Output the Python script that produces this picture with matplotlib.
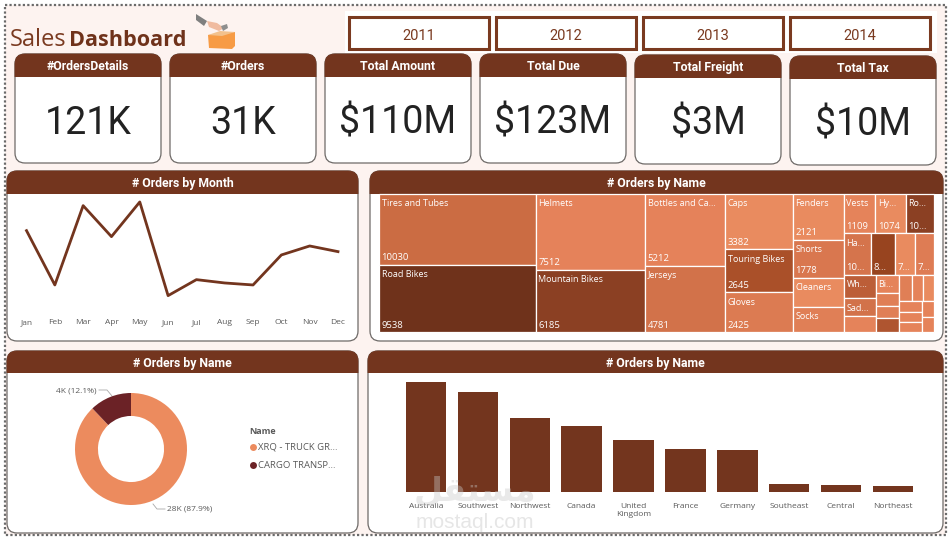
import matplotlib
matplotlib.use("Agg")
import matplotlib.pyplot as plt
from matplotlib.patches import FancyBboxPatch, Rectangle, Polygon

BROWN = "#73351E"
ORANGE = "#EC8B5E"
MAROON = "#6B2226"
PINK_BG = "#FDF3F0"
GREY_TEXT = "#5A5A5A"

W, H = 951, 540

# Top of the page
years = ["2011", "2012", "2013", "2014"]
card_titles = ["#OrdersDetails", "#Orders", "Total Amount", "Total Due", "Total Freight", "Total Tax"]
card_values = ["121K", "31K", "$110M", "$123M", "$3M", "$10M"]

# Orders per month
months = ["Jan", "Feb", "Mar", "Apr", "May", "Jun", "Jul", "Aug", "Sep", "Oct", "Nov", "Dec"]
month_orders = [2980, 2165, 3355, 2890, 3410, 2005, 2245, 2195, 2165, 2615, 2750, 2665]

# Orders per ship method
ship_names = ["XRQ - TRUCK GR...", "CARGO TRANSP..."]
ship_orders = [27659, 3806]

# Orders per territory
territories = ["Australia", "Southwest", "Northwest", "Canada", "United\nKingdom", "France",
               "Germany", "Southeast", "Central", "Northeast"]
territory_orders = [6843, 6224, 4594, 4067, 3219, 2672, 2623, 486, 385, 352]

# Orders per product subcategory
sub_names = ["Tires and Tubes", "Road Bikes", "Helmets", "Mountain Bikes", "Bottles and Ca...", "Jerseys",
             "Caps", "Touring Bikes", "Gloves", "Fenders", "Shorts", "Cleaners", "Socks",
             "Vests", "Hy...", "Ro...", "Ha...", "", "", "",
             "Wh...", "Sad...", "", "Bi...", "", "", "",
             "", "", "", "", "", "", "", ""]
sub_orders = [10030, 9538, 7512, 6185, 5212, 4781,
              3382, 2645, 2425, 2121, 1778, 1330, 1180,
              1109, 1074, 1010, 1030, 880, 790, 700,
              680, 520, 460, 370, 270, 250, 300,
              300, 270, 260, 230, 210, 200, 170, 170]
sub_colors = ["#CB6C43", "#6F321B", "#E5825A", "#8B4023", "#E5825A", "#D2724A",
              "#E98B5F", "#AA5029", "#DC7B52", "#E98B5F", "#D9774F", "#E98B5F", "#E07F56",
              "#E5835A", "#E98B5F", "#8B4023", "#D5744C", "#98441F", "#E98B5F", "#DE7C54",
              "#BC5E38", "#D2724A", "#E5835A", "#E5835A", "#E07F56", "#E07F56", "#AF5530",
              "#E07F56", "#E5835A", "#E98B5F", "#E5835A", "#E5835A", "#E5835A", "#E5835A", "#E5835A"]
# Nesting of the cells, direction alternates at each level
sub_tree = [[0, 1], [2, 3], [4, 5], [6, 7, 8], [9, 10, 11, 12],
            [[13, 14, 15], [16, 17, 18, 19],
             [[20, 21, 22], [23, 24, 25, 26],
              [[27, 28, 29], [[30, 31, 32], [33, 34]]]]]]

plt.rcParams["font.family"] = ["Open Sans", "DejaVu Sans"]

fig = plt.figure(figsize=(W / 100, H / 100), dpi=100, facecolor="white")
page = fig.add_axes([0, 0, 1, 1])
page.set_xlim(0, W)
page.set_ylim(H, 0)
page.axis("off")


def axes_px(left, top, right, bottom):
    """Axes placed with page pixel coordinates, y going down."""
    ax = fig.add_axes([left / W, 1 - bottom / H, (right - left) / W, (bottom - top) / H])
    ax.patch.set_alpha(0)
    return ax


def panel(x0, y0, x1, y1, header_bottom, title, title_size=8.8, edge="#6E6A68"):
    """White rounded panel with a brown title band."""
    rad = 10
    shape = "round,pad=0,rounding_size=%d" % rad
    box = FancyBboxPatch((x0, y0), x1 - x0, y1 - y0, boxstyle=shape, fc="white", ec=edge, lw=0.9, zorder=2)
    page.add_patch(box)
    band = FancyBboxPatch((x0, y0), x1 - x0, y1 - y0, boxstyle=shape, fc=BROWN, ec=BROWN, lw=0.6, zorder=3)
    page.add_patch(band)
    band.set_clip_path(Rectangle((x0 - 2, y0 - 2), x1 - x0 + 4, header_bottom - y0 + 2, transform=page.transData))
    page.text((x0 + x1) / 2, (y0 + header_bottom) / 2 + 1.2, title, color="white", fontsize=title_size,
              fontweight="bold", ha="center", va="center", family=["Roboto", "DejaVu Sans"], zorder=4)


# Page background and dotted frame
page.add_patch(Rectangle((5, 5), 941, 530, fc=PINK_BG, ec="#6A6A6A", lw=1.6, ls=(0, (1, 1)), zorder=1))
page.add_patch(Rectangle((345, 11), 592, 42, fc="white", ec="none", zorder=1.5))

# Title and the little parcel picture
page.text(10, 46, "Sales", color="#7A3A20", fontsize=17, zorder=4)
page.text(69, 46, "Dashboard", color="#6F321B", fontsize=15.6, fontweight="bold", zorder=4)
page.add_patch(Polygon([(196, 14), (207, 21), (204, 26), (196, 20)], fc="#7F7F7F", zorder=4))
page.add_patch(Polygon([(207, 21), (217, 23), (224, 28), (219, 31), (209, 27)], fc="#F0BBA0", zorder=4))
page.add_patch(Polygon([(221, 26), (227, 24), (228, 28), (223, 31)], fc="#8E8E8E", zorder=4))
page.add_patch(Polygon([(208, 35), (235, 32), (235, 46), (232, 49), (209, 48)], fc="#F79B45", zorder=4))
page.add_patch(Polygon([(208, 35), (220, 31), (235, 32), (222, 36)], fc="#F3C18C", zorder=4))

# Year slicers
slicer_x = [349, 496, 643, 790]
for x, year in zip(slicer_x, years):
    page.add_patch(Rectangle((x, 17), 139.5, 32, fc="white", ec="#7A3A20", lw=2.2, zorder=2))
    page.text(x + 70, 36.5, year, color="#7A3A20", fontsize=10.5, ha="center", va="center",
              family=["Roboto", "DejaVu Sans"], zorder=3)

# KPI cards
card_x = [15, 170, 325, 480, 635, 790]
card_y = [54, 54, 54, 54, 55, 56]
for x, y, title, value in zip(card_x, card_y, card_titles, card_values):
    panel(x, y, x + 146, y + 109, y + 23, title)
    page.text(x + 73, y + 69, value, color="#222222", fontsize=27, ha="center", va="center",
              family=["Roboto", "DejaVu Sans"], zorder=4)

# Orders by month
panel(7, 171, 358, 341, 194, "# Orders by Month")
ax_line = axes_px(12.35, 189.3, 352.15, 309.3)
ax_line.plot(range(len(months)), month_orders, color=BROWN, lw=2)
ax_line.set_xlim(-0.5, 11.5)
ax_line.set_ylim(1800, 3600)
ax_line.set_xticks(range(len(months)), months)
ax_line.set_yticks([])
ax_line.tick_params(axis="x", length=0, pad=7, labelsize=6, labelcolor=GREY_TEXT)
for side in ax_line.spines.values():
    side.set_visible(False)

# Orders by subcategory, treemap
panel(370, 171, 943, 341, 194, "# Orders by Name")


def node_total(node):
    if isinstance(node, int):
        return sub_orders[node]
    return sum(node_total(child) for child in node)


def short_value(value, width):
    if width >= 30:
        return str(value)
    if width >= 26:
        return str(value)[:2] + "..."
    return str(value)[0] + "..."


def draw_tree(node, x, y, w, h, across=True):
    if isinstance(node, int):
        page.add_patch(Rectangle((x, y), w, h, fc=sub_colors[node], ec="white", lw=0.9, zorder=3))
        if sub_names[node]:
            page.text(x + 2.5, y + 10, sub_names[node], color="white", fontsize=6.5, va="center", zorder=4)
        if h >= 30:
            page.text(x + 2.5, y + h - 7, short_value(sub_orders[node], w), color="white", fontsize=6.8,
                      va="center", zorder=4)
        return
    total = node_total(node)
    for child in node:
        part = node_total(child) / total
        if across:
            draw_tree(child, x, y, w * part, h, False)
            x += w * part
        else:
            draw_tree(child, x, y, w, h * part, True)
            y += h * part


draw_tree(sub_tree, 379, 194, 555, 138)

# Orders by ship method, donut
panel(7, 351, 358, 533, 373, "# Orders by Name")
ax_pie = axes_px(75, 393, 187, 505)
ax_pie.pie(ship_orders, colors=[ORANGE, MAROON], startangle=90, counterclock=False, radius=1,
           wedgeprops={"width": 0.41, "linewidth": 0})
ax_pie.set_xlim(-1, 1)
ax_pie.set_ylim(-1, 1)

ship_total = sum(ship_orders)
ship_labels = ["%.0fK (%.1f%%)" % (v / 1000, 100 * v / ship_total) for v in ship_orders]
page.plot([153, 157, 165], [504, 509, 509], color="#A8A8A8", lw=0.6, zorder=4)
page.text(167, 509, ship_labels[0], color=GREY_TEXT, fontsize=6, va="center", zorder=4)
page.plot([99, 107, 112], [390, 390, 396], color="#A8A8A8", lw=0.6, zorder=4)
page.text(96, 391, ship_labels[1], color=GREY_TEXT, fontsize=6, va="center", ha="right", zorder=4)

page.text(249, 432, "Name", color=GREY_TEXT, fontsize=6.5, fontweight="bold", va="center", zorder=4)
for y, name, color in zip([447, 465], ship_names, [ORANGE, MAROON]):
    page.plot([253], [y], "o", ms=5, color=color, mew=0, zorder=4)
    page.text(258, y, name, color=GREY_TEXT, fontsize=6.8, va="center", zorder=4)

# Orders by territory
panel(368, 351, 943, 533, 373, "# Orders by Name")
ax_bar = axes_px(400, 382, 919, 491.5)
ax_bar.bar(range(len(territories)), territory_orders, width=0.78, color=BROWN)
ax_bar.set_xlim(-0.5, 9.5)
ax_bar.set_ylim(0, max(territory_orders))
ax_bar.set_xticks(range(len(territories)), territories)
ax_bar.set_yticks([])
ax_bar.tick_params(axis="x", length=0, pad=8, labelsize=6, labelcolor=GREY_TEXT)
for side in ax_bar.spines.values():
    side.set_visible(False)

# Site stamp across the lower right panel
fig.text(475, 491, "\ufede\ufed8\ufe98\ufeb4\ufee3", transform=page.transData, color="#C8C8C8", alpha=0.4,
         fontsize=24, fontweight="bold", ha="center", va="center", family="DejaVu Sans", zorder=10)
fig.text(475, 522, "mostaql.com", transform=page.transData, color="#C8C8C8", alpha=0.45,
         fontsize=15, ha="center", va="center", family="Liberation Sans", zorder=10)

fig.savefig("out.png", dpi=100, facecolor="white")
